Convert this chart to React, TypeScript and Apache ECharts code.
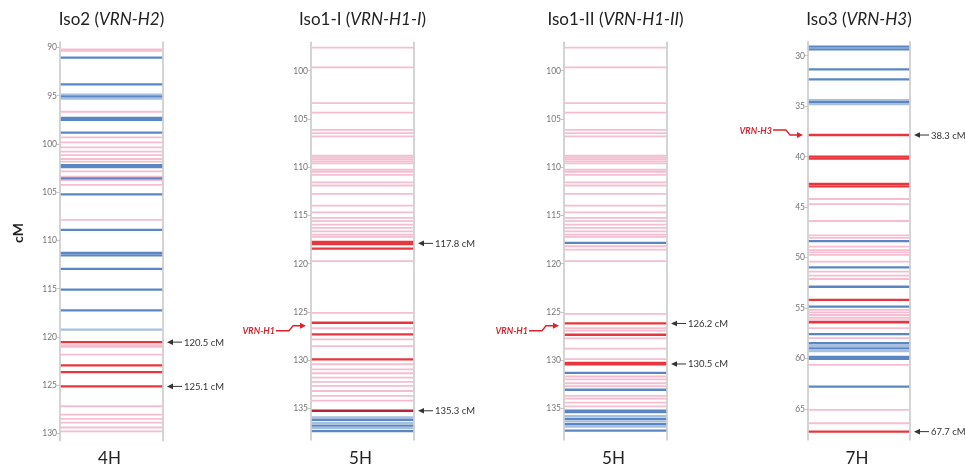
import React, { useEffect, useRef } from 'react';
import * as echarts from 'echarts';

// kind: 0 = pink, 1 = red, 2 = blue, 3 = light blue, 4 = dark red
const KIND_COLORS = ['#f6bdd0', '#e8363e', '#5a87c4', '#a6bfe1', '#b3263b'];

const iso2Lines: [number, number][] = [
  [90.2, 0], [90.35, 0], [91.06, 2], [93.82, 2], [94.9, 3], [95.1, 2], [95.3, 3], [96.66, 0],
  [97.3, 2], [97.5, 2], [98.83, 2], [99.31, 0], [99.83, 0], [100.35, 0], [100.8, 0], [101.15, 0],
  [101.56, 0], [101.84, 0], [102.2, 2], [102.4, 2], [102.85, 0], [103.4, 0], [103.56, 2], [103.75, 0],
  [104.25, 0], [105.22, 2], [107.88, 0], [108.92, 2], [111.3, 2], [111.55, 2], [112.95, 2], [115.1, 2],
  [117.25, 2], [119.25, 3], [120.55, 1], [120.85, 0], [121.05, 0], [121.85, 0], [122.96, 1], [123.65, 1],
  [125.14, 1], [127.2, 0], [128.06, 0], [128.5, 0], [128.9, 0], [129.4, 0], [129.8, 0],
];

const iso1ILines: [number, number][] = [
  [97.62, 0], [99.65, 0], [103.37, 0], [104.34, 0], [106.13, 0], [106.47, 0], [106.82, 0], [108.8, 0],
  [109.0, 0], [109.2, 0], [109.4, 0], [109.6, 0], [110.27, 0], [110.5, 0], [110.8, 0], [111.58, 0],
  [111.9, 0], [112.78, 0], [113.99, 0], [114.68, 0], [115.26, 0], [115.6, 0], [115.96, 0], [116.3, 0],
  [116.65, 0], [117.0, 0], [117.23, 0], [117.75, 1], [117.98, 1], [118.45, 1], [119.75, 0], [125.1, 0],
  [126.13, 1], [126.7, 0], [127.33, 1], [127.85, 0], [128.54, 0], [129.92, 1], [130.43, 0], [130.95, 0],
  [131.36, 0], [131.81, 0], [132.26, 0], [132.68, 0], [133.2, 0], [133.7, 0], [134.2, 0], [135.25, 4],
  [135.95, 3], [136.2, 2], [136.5, 3], [136.8, 2], [137.05, 3], [137.35, 2],
];

const iso1IILines: [number, number][] = [
  [97.62, 0], [99.65, 0], [103.37, 0], [104.34, 0], [106.13, 0], [106.47, 0], [106.82, 0], [108.8, 0],
  [109.0, 0], [109.2, 0], [109.4, 0], [109.6, 0], [110.27, 0], [110.5, 0], [110.8, 0], [111.58, 0],
  [111.9, 0], [112.78, 0], [113.99, 0], [114.68, 0], [115.26, 0], [115.6, 0], [115.96, 0], [116.3, 0],
  [116.65, 0], [117.0, 0], [117.23, 0], [117.85, 2], [118.2, 0], [118.54, 0], [119.75, 0], [125.2, 0],
  [126.2, 1], [126.7, 0], [126.95, 0], [127.37, 1], [127.75, 0], [128.8, 0], [129.9, 0], [130.3, 1],
  [130.45, 1], [131.33, 2], [131.7, 0], [132.0, 0], [132.4, 0], [132.7, 0], [133.07, 2], [133.7, 0],
  [134.0, 0], [134.4, 0], [134.8, 0], [135.25, 2], [135.4, 2], [135.8, 3], [136.1, 2], [136.35, 3],
  [136.65, 2], [136.9, 3], [137.3, 2],
];

const iso3Lines: [number, number][] = [
  [29.1, 2], [29.37, 2], [31.35, 2], [32.34, 2], [34.4, 3], [34.6, 2], [34.8, 3], [37.86, 1],
  [40.0, 1], [40.2, 1], [42.7, 1], [42.95, 1], [44.2, 0], [44.7, 0], [46.38, 0], [47.8, 0],
  [48.05, 0], [48.37, 2], [48.93, 0], [49.26, 0], [49.5, 0], [49.75, 0], [50.4, 0], [50.97, 2],
  [51.4, 0], [51.8, 0], [52.13, 0], [52.9, 2], [54.2, 1], [54.87, 2], [55.2, 0], [55.43, 0],
  [55.7, 0], [55.97, 0], [56.2, 0], [56.42, 1], [57.0, 0], [57.6, 2], [58.0, 0], [58.5, 2],
  [58.77, 3], [59.0, 2], [59.27, 3], [59.85, 2], [60.05, 2], [60.65, 0], [62.8, 2], [65.1, 0],
  [66.43, 0], [67.26, 1],
];

const panelLines = [iso2Lines, iso1ILines, iso1IILines, iso3Lines];
const panelNames = ['Iso2', 'Iso1-I', 'Iso1-II', 'Iso3'];
const panelGenes = ['VRN-H2', 'VRN-H1-I', 'VRN-H1-II', 'VRN-H3'];
const chromosomes = ['4H', '5H', '5H', '7H'];
const axisMins = [89.43, 97.06, 97.06, 28.61];
const axisMaxs = [130.77, 138.28, 138.28, 68.09];
const tickValues = [
  [90, 95, 100, 105, 110, 115, 120, 125, 130],
  [100, 105, 110, 115, 120, 125, 130, 135],
  [100, 105, 110, 115, 120, 125, 130, 135],
  [30, 35, 40, 45, 50, 55, 60, 65],
];
const rightNotes = [
  [{ v: 120.55, label: '120.5 cM' }, { v: 125.14, label: '125.1 cM' }],
  [{ v: 117.9, label: '117.8 cM' }, { v: 135.25, label: '135.3 cM' }],
  [{ v: 126.2, label: '126.2 cM' }, { v: 130.4, label: '130.5 cM' }],
  [{ v: 37.86, label: '38.3 cM' }, { v: 67.26, label: '67.7 cM' }],
];
const leftNotes = [
  [] as { v: number; label: string }[],
  [{ v: 126.44, label: 'VRN-H1' }],
  [{ v: 126.44, label: 'VRN-H1' }],
  [{ v: 37.86, label: 'VRN-H3' }],
];

// layout (pixels)
const GRIDS = [
  { left: 60, top: 42, width: 103, height: 398.7 },
  { left: 311, top: 42.3, width: 103, height: 397.7 },
  { left: 564, top: 42.3, width: 103, height: 397.7 },
  { left: 808, top: 41.7, width: 102, height: 398.3 },
];
const LEFT_TEXT_DY = [0, 5, 5, -5];
const FONT = 'Lato, "Open Sans", sans-serif';
const AXIS_GRAY = '#c6c6c6';

export default function App() {
  const ref = useRef<HTMLDivElement>(null);

  useEffect(() => {
    if (!ref.current) return;
    const chart = echarts.init(ref.current, null, { renderer: 'svg' });

    const grid = GRIDS.map((g) => ({ ...g, containLabel: false }));
    const xAxis = GRIDS.map((_, i) => ({ gridIndex: i, type: 'value', min: 0, max: 1, show: false }));
    const yAxis: any[] = [];
    GRIDS.forEach((_, i) => {
      yAxis.push({
        gridIndex: i,
        type: 'value',
        inverse: true,
        min: axisMins[i],
        max: axisMaxs[i],
        position: 'left',
        axisLine: { show: true, lineStyle: { color: AXIS_GRAY, width: 1.5 } },
        axisTick: { show: true, length: 3, customValues: tickValues[i], lineStyle: { color: AXIS_GRAY } },
        axisLabel: { show: true, customValues: tickValues[i], fontSize: 8.5, color: '#777', margin: 3, fontFamily: FONT },
        splitLine: { show: false },
      });
    });
    GRIDS.forEach((_, i) => {
      yAxis.push({
        gridIndex: i,
        type: 'value',
        inverse: true,
        min: axisMins[i],
        max: axisMaxs[i],
        position: 'right',
        axisLine: { show: true, lineStyle: { color: AXIS_GRAY, width: 1.5 } },
        axisTick: { show: false },
        axisLabel: { show: false },
        splitLine: { show: false },
      });
    });

    const series = panelLines.map((lines, i) => ({
      type: 'custom',
      xAxisIndex: i,
      yAxisIndex: i,
      clip: false,
      data: lines
        .slice()
        .sort((a, b) => (a[1] === 0 ? 0 : 1) - (b[1] === 0 ? 0 : 1))
        .map(([v, k]) => [v, k]),
      encode: { y: 0 },
      renderItem: (_p: any, api: any) => {
        const v = api.value(0);
        const k = api.value(1);
        const a = api.coord([0, v]);
        const b = api.coord([1, v]);
        return {
          type: 'line',
          shape: { x1: a[0] + 0.8, y1: a[1], x2: b[0] - 0.8, y2: b[1] },
          style: { stroke: KIND_COLORS[k], lineWidth: k === 0 ? 1.8 : 2.3 },
        };
      },
    }));

    chart.setOption({ animation: false, grid, xAxis, yAxis, series });

    const graphic: any[] = [];
    GRIDS.forEach((g, i) => {
      const cx = g.left + g.width / 2;
      graphic.push({
        type: 'text',
        x: cx,
        y: 18,
        style: {
          text: `${panelNames[i]} ({i|${panelGenes[i]}})`,
          fontSize: 17,
          fontFamily: FONT,
          fill: '#222',
          align: 'center',
          verticalAlign: 'middle',
          rich: { i: { fontStyle: 'italic', fontSize: 17, fontFamily: FONT, fill: '#222' } },
        },
      });
      graphic.push({
        type: 'text',
        x: cx - 2,
        y: 457,
        style: { text: chromosomes[i], fontSize: 17, fontFamily: FONT, fill: '#222', align: 'center', verticalAlign: 'middle' },
      });
      rightNotes[i].forEach((n) => {
        const p = chart.convertToPixel({ gridIndex: i }, [1, n.v]) as number[];
        const tip = p[0] + 4;
        const y = p[1];
        graphic.push({ type: 'polygon', shape: { points: [[tip, y], [tip + 6, y - 2.8], [tip + 6, y + 2.8]] }, style: { fill: '#333' } });
        graphic.push({ type: 'line', shape: { x1: tip + 5, y1: y, x2: tip + 15, y2: y }, style: { stroke: '#333', lineWidth: 1 } });
        graphic.push({
          type: 'text',
          x: tip + 17,
          y,
          style: { text: n.label, fontSize: 9.5, fontFamily: FONT, fill: '#333', align: 'left', verticalAlign: 'middle' },
        });
      });
      leftNotes[i].forEach((n) => {
        const p = chart.convertToPixel({ gridIndex: i }, [0, n.v]) as number[];
        const tip = p[0] - 5;
        const y = p[1];
        const ty = y + LEFT_TEXT_DY[i];
        const red = '#e0202a';
        graphic.push({
          type: 'polyline',
          shape: { points: [[tip - 30, ty], [tip - 17, ty], [tip - 13, y], [tip - 5, y]] },
          style: { stroke: red, lineWidth: 1.3, fill: null },
        });
        graphic.push({ type: 'polygon', shape: { points: [[tip, y], [tip - 6, y - 3], [tip - 6, y + 3]] }, style: { fill: red } });
        graphic.push({
          type: 'text',
          x: tip - 31,
          y: ty,
          style: {
            text: n.label,
            fontSize: 9,
            fontWeight: 'bold',
            fontStyle: 'italic',
            fontFamily: FONT,
            fill: red,
            align: 'right',
            verticalAlign: 'middle',
          },
        });
      });
    });
    graphic.push({
      type: 'text',
      x: 17,
      y: 233,
      rotation: Math.PI / 2,
      style: { text: 'cM', fontSize: 14, fontWeight: 'bold', fontFamily: FONT, fill: '#222', align: 'center', verticalAlign: 'middle' },
    });

    chart.setOption({ graphic });

    return () => chart.dispose();
  }, []);

  return <div ref={ref} style={{ position: 'fixed', left: 0, top: 0, width: 965, height: 466 }} />;
}
